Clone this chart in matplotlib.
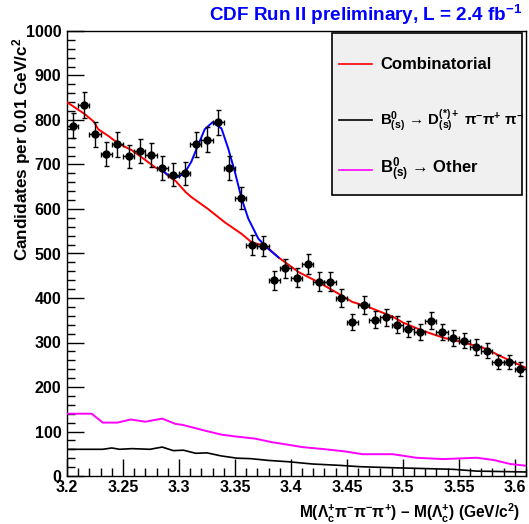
import numpy as np
import matplotlib
matplotlib.use("Agg")
import matplotlib.pyplot as plt
from matplotlib.ticker import MultipleLocator
from matplotlib.patches import Rectangle
from matplotlib.lines import Line2D

plt.rcParams['font.family'] = ['Liberation Sans', 'DejaVu Sans']
plt.rcParams['font.weight'] = 'bold'
plt.rcParams['mathtext.fontset'] = 'custom'
plt.rcParams['mathtext.rm'] = 'Liberation Sans:bold'
plt.rcParams['mathtext.bf'] = 'Liberation Sans:bold'
plt.rcParams['mathtext.it'] = 'Liberation Sans:bold'
plt.rcParams['mathtext.default'] = 'bf'

# ---- data ----
bin_centers = [3.205, 3.215, 3.225, 3.235, 3.245, 3.255, 3.265, 3.275, 3.285, 3.295,
               3.305, 3.315, 3.325, 3.335, 3.345, 3.355, 3.365, 3.375, 3.385, 3.395,
               3.405, 3.415, 3.425, 3.435, 3.445, 3.455, 3.465, 3.475, 3.485, 3.495,
               3.505, 3.515, 3.525, 3.535, 3.545, 3.555, 3.565, 3.575, 3.585, 3.595,
               3.605]
counts = [787, 834, 768, 724, 745, 718, 731, 722, 692, 677,
          680, 745, 756, 795, 692, 624, 519, 517, 440, 467,
          446, 476, 437, 437, 400, 346, 384, 351, 357, 340,
          330, 324, 349, 323, 310, 304, 290, 282, 257, 256,
          241]
x_err = [0.005] * len(bin_centers)

comb_x = [3.200, 3.216, 3.224, 3.228, 3.237, 3.246, 3.258, 3.270, 3.279, 3.285,
          3.291, 3.297, 3.306, 3.311, 3.326, 3.341, 3.356, 3.365, 3.371, 3.377,
          3.389, 3.395, 3.407, 3.425, 3.443, 3.455, 3.467, 3.479, 3.491, 3.500,
          3.518, 3.536, 3.554, 3.572, 3.590, 3.610]
comb_y = [840, 813, 796, 779, 764, 747, 732, 710, 693, 687,
          673, 663, 638, 627, 600, 570, 544, 525, 521, 518,
          491, 480, 458, 435, 409, 391, 382, 370, 358, 345,
          326, 311, 300, 288, 266, 243]

total_x = [3.285, 3.291, 3.296, 3.301, 3.306, 3.311, 3.317, 3.323, 3.330, 3.338,
           3.344, 3.350, 3.356, 3.362, 3.371, 3.380, 3.389]
total_y = [687, 675, 670, 674, 685, 706, 743, 779, 795, 781,
           736, 683, 623, 578, 533, 510, 491]

other_x = [3.200, 3.222, 3.232, 3.245, 3.257, 3.270, 3.285, 3.297, 3.303, 3.314,
           3.323, 3.338, 3.350, 3.368, 3.383, 3.398, 3.410, 3.431, 3.449, 3.464,
           3.491, 3.512, 3.536, 3.566, 3.581, 3.596, 3.610]
other_y = [140, 140, 120, 120, 127, 122, 129, 117, 115, 108,
           102, 93, 89, 84, 76, 70, 65, 60, 55, 49,
           49, 41, 38, 41, 36, 27, 23]

dstar_x = [3.200, 3.232, 3.240, 3.247, 3.258, 3.274, 3.285, 3.295, 3.304, 3.315,
           3.325, 3.338, 3.352, 3.364, 3.380, 3.398, 3.419, 3.443, 3.461, 3.485,
           3.515, 3.545, 3.566, 3.610]
dstar_y = [60, 60, 63, 60, 61.5, 60, 65, 57, 58, 51,
           52, 45, 40, 39, 35, 32, 27, 24, 21, 19,
           17, 15, 11, 9]

labels = ["Combinatorial",
          "B$^{0}_{(s)}$ \u2192 D$^{(*)+}_{(s)}$ \u03c0$^{-}$\u03c0$^{+}$ \u03c0$^{-}$",
          "B$^{0}_{(s)}$ \u2192 Other"]
label_sizes = [12, 10.8, 12]
colors = ["#ff0000", "#000000", "#ff00ff"]

fig = plt.figure(figsize=(5.29, 5.24), dpi=100)
ax = fig.add_axes([67 / 529, 48 / 524, 459 / 529, 445 / 524])

ax.plot(comb_x, comb_y, color=colors[0], lw=1.4, zorder=3)
ax.plot(total_x, total_y, color="#0000ff", lw=1.4, zorder=3)
ax.plot(dstar_x, dstar_y, color=colors[1], lw=1.2, zorder=3)
ax.plot(other_x, other_y, color=colors[2], lw=1.4, zorder=3)
ax.errorbar(bin_centers, counts, yerr=np.sqrt(counts), xerr=x_err, fmt='o',
            color='black', ms=5, elinewidth=1.0, capsize=1.8, capthick=1.0, zorder=4)

ax.set_xlim(3.2, 3.61)
ax.set_ylim(0, 1000)
ax.xaxis.set_minor_locator(MultipleLocator(0.01))
ax.yaxis.set_major_locator(MultipleLocator(100))
ax.yaxis.set_minor_locator(MultipleLocator(20))
ax.set_xticks([3.2, 3.25, 3.3, 3.35, 3.4, 3.45, 3.5, 3.55, 3.6])
ax.set_xticklabels(["3.2", "3.25", "3.3", "3.35", "3.4", "3.45", "3.5", "3.55", "3.6"])
ax.tick_params(axis='both', which='both', direction='in', top=False, right=False,
               labelsize=11.5, width=1.0)
ax.tick_params(axis='both', which='major', length=12)
ax.tick_params(axis='both', which='minor', length=6)
ax.tick_params(axis='x', pad=3)
ax.tick_params(axis='y', pad=4)
for lab in ax.get_xticklabels() + ax.get_yticklabels():
    lab.set_fontweight('bold')
for sp in ax.spines.values():
    sp.set_linewidth(1.0)

ax.set_ylabel("Candidates per 0.01 GeV/c$^{2}$", fontsize=12.3, fontweight='bold',
              loc='top')
ax.yaxis.set_label_coords(-0.074, 0.985)
ax.set_xlabel("M(\u039b$_{c}^{+}$\u03c0$^{-}$\u03c0$^{-}$\u03c0$^{+}$) \u2013 M(\u039b$_{c}^{+}$) (GeV/c$^{2}$)",
              fontsize=11.2, fontweight='bold', loc='right')
ax.xaxis.set_label_coords(0.988, -0.058)

fig.text(0.987, 0.972, "CDF Run II preliminary, L = 2.4 fb$^{-1}$", color="#0000ff",
         fontsize=13.6, fontweight='bold', ha='right', va='center')

# legend box
ax.add_patch(Rectangle((0.577, 0.632), 0.414, 0.363, transform=ax.transAxes,
                       facecolor="#f0f0f0", edgecolor="black", lw=1.2, zorder=5))
ys = [0.925, 0.80, 0.688]
for lab, c, y, fs in zip(labels, colors, ys, label_sizes):
    ax.add_line(Line2D([0.592, 0.664], [y, y], transform=ax.transAxes, color=c, lw=1.2, zorder=6))
    ax.text(0.682, y, lab, transform=ax.transAxes, fontsize=fs, fontweight='bold',
            va='center', ha='left', zorder=6)

fig.savefig("out.png", dpi=100)
